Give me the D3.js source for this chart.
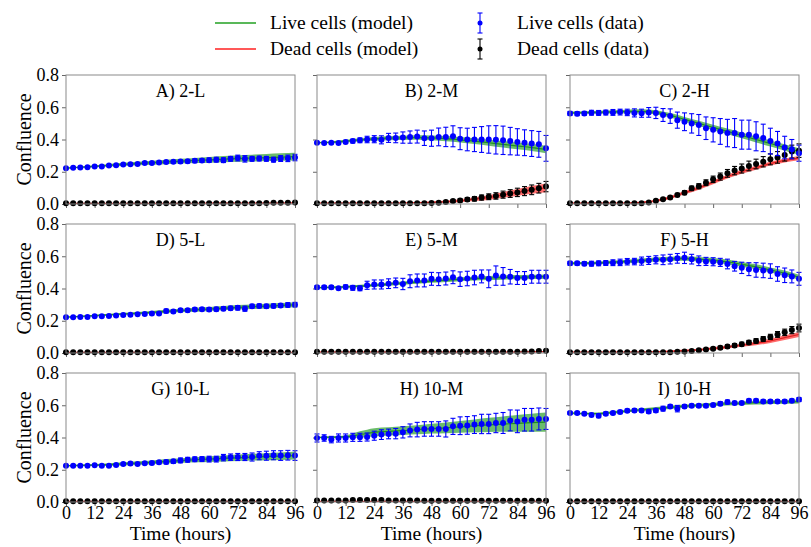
<!DOCTYPE html>
<html><head><meta charset="utf-8">
<script src="https://cdn.jsdelivr.net/npm/d3@7"></script>
<style>
body{margin:0;background:#fff}
svg{display:block}
text{font-family:"Liberation Serif","Times New Roman",serif;fill:#000}
</style>
</head><body><svg id="c" width="811" height="547"></svg>
<script>
// ---------------- data ----------------
const times = [0,3,6,9,12,15,18,21,24,27,30,33,36,39,42,45,48,51,54,57,60,63,66,69,72,75,78,81,84,87,90,93,96];
const modelTimes = [0,6,12,18,24,30,36,42,48,54,60,66,72,78,84,90,96];
const xTicks = [0,12,24,36,48,60,72,84,96];
const yTicks = [0,0.2,0.4,0.6,0.8];
const panelTitles = ["A) 2-L","B) 2-M","C) 2-H","D) 5-L","E) 5-M","F) 5-H","G) 10-L","H) 10-M","I) 10-H"];
const legendLabels = ["Live cells (model)","Dead cells (model)","Live cells (data)","Dead cells (data)"];

const liveMean = [
 [0.222,0.225,0.226,0.228,0.232,0.232,0.238,0.240,0.245,0.246,0.248,0.255,0.255,0.258,0.260,0.262,0.263,0.265,0.268,0.270,0.272,0.275,0.272,0.280,0.285,0.280,0.280,0.282,0.280,0.275,0.282,0.283,0.288],
 [0.380,0.378,0.380,0.378,0.385,0.390,0.395,0.400,0.402,0.398,0.410,0.410,0.412,0.415,0.418,0.408,0.408,0.416,0.416,0.420,0.405,0.400,0.400,0.400,0.400,0.398,0.395,0.390,0.385,0.380,0.375,0.370,0.345],
 [0.562,0.560,0.562,0.566,0.565,0.567,0.568,0.570,0.568,0.565,0.563,0.568,0.565,0.552,0.545,0.520,0.510,0.500,0.490,0.470,0.460,0.450,0.440,0.440,0.430,0.430,0.420,0.410,0.390,0.375,0.350,0.340,0.315],
 [0.222,0.222,0.223,0.224,0.228,0.228,0.230,0.232,0.235,0.237,0.240,0.242,0.245,0.245,0.260,0.258,0.265,0.265,0.270,0.272,0.270,0.272,0.275,0.278,0.280,0.275,0.290,0.292,0.290,0.292,0.295,0.298,0.300],
 [0.407,0.407,0.407,0.401,0.410,0.404,0.401,0.420,0.425,0.425,0.430,0.435,0.428,0.445,0.450,0.450,0.460,0.458,0.462,0.470,0.458,0.462,0.468,0.475,0.460,0.480,0.475,0.473,0.465,0.465,0.473,0.473,0.473],
 [0.556,0.556,0.554,0.554,0.556,0.558,0.560,0.562,0.566,0.567,0.570,0.574,0.578,0.578,0.582,0.587,0.590,0.582,0.572,0.568,0.566,0.562,0.552,0.538,0.528,0.520,0.515,0.512,0.508,0.490,0.482,0.475,0.460],
 [0.225,0.225,0.225,0.225,0.228,0.225,0.225,0.230,0.236,0.238,0.236,0.240,0.242,0.246,0.248,0.252,0.258,0.262,0.265,0.266,0.266,0.266,0.275,0.278,0.279,0.279,0.279,0.287,0.287,0.290,0.288,0.290,0.288],
 [0.397,0.397,0.387,0.397,0.397,0.401,0.401,0.403,0.411,0.418,0.422,0.424,0.432,0.444,0.449,0.453,0.453,0.453,0.453,0.469,0.473,0.475,0.480,0.484,0.484,0.490,0.490,0.506,0.500,0.510,0.510,0.515,0.515],
 [0.552,0.552,0.548,0.540,0.535,0.548,0.552,0.558,0.566,0.568,0.568,0.562,0.568,0.579,0.593,0.579,0.593,0.597,0.597,0.597,0.601,0.610,0.620,0.614,0.614,0.628,0.628,0.624,0.624,0.624,0.624,0.628,0.635]
];
const liveErr = [
 [0.004,0.004,0.004,0.004,0.004,0.004,0.005,0.005,0.005,0.005,0.006,0.006,0.006,0.007,0.008,0.008,0.010,0.010,0.012,0.012,0.014,0.015,0.015,0.015,0.018,0.020,0.015,0.015,0.015,0.015,0.018,0.020,0.020],
 [0.005,0.005,0.006,0.006,0.010,0.012,0.015,0.020,0.022,0.025,0.028,0.030,0.035,0.038,0.040,0.045,0.050,0.055,0.060,0.065,0.068,0.070,0.075,0.080,0.085,0.088,0.088,0.085,0.082,0.080,0.080,0.080,0.080],
 [0.012,0.012,0.012,0.015,0.015,0.015,0.018,0.018,0.020,0.025,0.025,0.030,0.035,0.040,0.045,0.050,0.055,0.060,0.065,0.070,0.075,0.080,0.085,0.090,0.090,0.090,0.090,0.085,0.080,0.075,0.070,0.060,0.050],
 [0.004,0.004,0.004,0.005,0.005,0.005,0.005,0.006,0.006,0.006,0.007,0.007,0.008,0.008,0.012,0.010,0.010,0.010,0.010,0.010,0.012,0.012,0.012,0.012,0.014,0.016,0.012,0.012,0.012,0.012,0.012,0.014,0.014],
 [0.010,0.010,0.010,0.008,0.012,0.015,0.015,0.025,0.028,0.028,0.030,0.030,0.035,0.040,0.040,0.040,0.040,0.040,0.040,0.040,0.045,0.045,0.045,0.040,0.055,0.060,0.055,0.045,0.040,0.040,0.040,0.040,0.040],
 [0.012,0.012,0.012,0.015,0.015,0.015,0.018,0.020,0.020,0.020,0.025,0.025,0.025,0.030,0.030,0.030,0.035,0.030,0.030,0.025,0.025,0.025,0.030,0.030,0.035,0.040,0.045,0.045,0.045,0.045,0.045,0.040,0.040],
 [0.004,0.004,0.004,0.004,0.005,0.005,0.005,0.006,0.008,0.008,0.008,0.008,0.010,0.010,0.012,0.012,0.015,0.015,0.015,0.015,0.018,0.018,0.020,0.020,0.022,0.022,0.025,0.025,0.028,0.028,0.030,0.030,0.030],
 [0.025,0.020,0.020,0.025,0.025,0.025,0.025,0.025,0.028,0.030,0.030,0.032,0.035,0.040,0.045,0.045,0.045,0.045,0.050,0.050,0.055,0.055,0.055,0.060,0.060,0.060,0.065,0.065,0.070,0.070,0.070,0.068,0.065],
 [0.008,0.008,0.008,0.010,0.012,0.010,0.010,0.010,0.010,0.010,0.010,0.012,0.012,0.015,0.010,0.020,0.010,0.010,0.010,0.010,0.010,0.012,0.012,0.010,0.010,0.010,0.010,0.010,0.010,0.010,0.010,0.010,0.012]
];
const deadMean = [
 [0.005,0.005,0.005,0.005,0.005,0.005,0.005,0.005,0.005,0.005,0.005,0.005,0.005,0.005,0.005,0.005,0.005,0.005,0.005,0.005,0.005,0.005,0.005,0.005,0.005,0.005,0.005,0.005,0.006,0.007,0.008,0.008,0.009],
 [0.005,0.005,0.005,0.005,0.005,0.005,0.005,0.005,0.005,0.005,0.005,0.005,0.005,0.005,0.005,0.005,0.006,0.008,0.012,0.018,0.022,0.028,0.032,0.040,0.045,0.050,0.058,0.065,0.072,0.080,0.088,0.098,0.108],
 [0.005,0.005,0.005,0.005,0.005,0.005,0.005,0.005,0.005,0.005,0.005,0.010,0.020,0.030,0.040,0.056,0.070,0.097,0.110,0.132,0.153,0.170,0.190,0.207,0.220,0.236,0.248,0.262,0.277,0.289,0.304,0.325,0.331],
 [0.005,0.005,0.005,0.005,0.005,0.005,0.005,0.005,0.005,0.005,0.005,0.005,0.005,0.005,0.005,0.005,0.005,0.005,0.005,0.005,0.005,0.005,0.005,0.005,0.005,0.005,0.005,0.005,0.005,0.005,0.005,0.005,0.005],
 [0.007,0.007,0.007,0.007,0.007,0.007,0.007,0.007,0.007,0.007,0.007,0.007,0.007,0.007,0.007,0.007,0.007,0.007,0.007,0.007,0.007,0.007,0.007,0.007,0.007,0.007,0.007,0.008,0.008,0.009,0.010,0.012,0.014],
 [0.005,0.005,0.005,0.005,0.005,0.005,0.005,0.005,0.005,0.005,0.005,0.005,0.005,0.005,0.005,0.008,0.010,0.013,0.017,0.022,0.027,0.033,0.040,0.047,0.055,0.065,0.075,0.087,0.100,0.115,0.128,0.142,0.155],
 [0.005,0.005,0.005,0.005,0.005,0.005,0.005,0.005,0.005,0.005,0.005,0.005,0.005,0.005,0.005,0.005,0.005,0.005,0.005,0.005,0.005,0.005,0.005,0.005,0.005,0.005,0.005,0.005,0.005,0.005,0.005,0.005,0.005],
 [0.009,0.009,0.009,0.009,0.009,0.012,0.012,0.012,0.012,0.012,0.010,0.009,0.009,0.009,0.009,0.008,0.008,0.008,0.008,0.008,0.008,0.008,0.008,0.008,0.008,0.008,0.008,0.008,0.008,0.008,0.008,0.008,0.008],
 [0.005,0.005,0.005,0.005,0.005,0.005,0.005,0.005,0.005,0.005,0.005,0.005,0.005,0.005,0.005,0.005,0.005,0.005,0.005,0.005,0.005,0.005,0.005,0.005,0.005,0.005,0.005,0.005,0.005,0.005,0.005,0.005,0.005]
];
const deadErr = [
 [0.003,0.003,0.003,0.003,0.003,0.003,0.003,0.003,0.003,0.003,0.003,0.003,0.003,0.003,0.003,0.003,0.003,0.003,0.003,0.003,0.003,0.003,0.003,0.003,0.003,0.003,0.003,0.003,0.003,0.003,0.003,0.003,0.003],
 [0.003,0.003,0.003,0.003,0.003,0.003,0.003,0.003,0.003,0.003,0.003,0.003,0.003,0.003,0.003,0.003,0.004,0.005,0.006,0.008,0.010,0.012,0.014,0.016,0.018,0.020,0.022,0.024,0.026,0.028,0.030,0.030,0.032],
 [0.003,0.003,0.003,0.003,0.003,0.003,0.003,0.003,0.003,0.003,0.003,0.004,0.005,0.006,0.008,0.010,0.012,0.014,0.016,0.018,0.020,0.022,0.024,0.026,0.028,0.030,0.030,0.032,0.034,0.036,0.038,0.040,0.042],
 [0.003,0.003,0.003,0.003,0.003,0.003,0.003,0.003,0.003,0.003,0.003,0.003,0.003,0.003,0.003,0.003,0.003,0.003,0.003,0.003,0.003,0.003,0.003,0.003,0.003,0.003,0.003,0.003,0.003,0.003,0.003,0.003,0.003],
 [0.003,0.003,0.003,0.003,0.003,0.003,0.003,0.003,0.003,0.003,0.003,0.003,0.003,0.003,0.003,0.003,0.003,0.003,0.003,0.003,0.003,0.003,0.003,0.003,0.003,0.003,0.003,0.003,0.003,0.003,0.003,0.004,0.004],
 [0.003,0.003,0.003,0.003,0.003,0.003,0.003,0.003,0.003,0.003,0.003,0.003,0.003,0.003,0.003,0.004,0.004,0.005,0.006,0.007,0.008,0.009,0.010,0.011,0.012,0.013,0.014,0.015,0.016,0.018,0.020,0.022,0.024],
 [0.003,0.003,0.003,0.003,0.003,0.003,0.003,0.003,0.003,0.003,0.003,0.003,0.003,0.003,0.003,0.003,0.003,0.003,0.003,0.003,0.003,0.003,0.003,0.003,0.003,0.003,0.003,0.003,0.003,0.003,0.003,0.003,0.003],
 [0.003,0.003,0.003,0.003,0.003,0.004,0.004,0.004,0.004,0.004,0.003,0.003,0.003,0.003,0.003,0.003,0.003,0.003,0.003,0.003,0.003,0.003,0.003,0.003,0.003,0.003,0.003,0.003,0.003,0.003,0.003,0.003,0.003],
 [0.003,0.003,0.003,0.003,0.003,0.003,0.003,0.003,0.003,0.003,0.003,0.003,0.003,0.003,0.003,0.003,0.003,0.003,0.003,0.003,0.003,0.003,0.003,0.003,0.003,0.003,0.003,0.003,0.003,0.003,0.003,0.003,0.003]
];
const modelLive = [
 [0.222,0.228,0.234,0.240,0.246,0.251,0.256,0.261,0.266,0.270,0.274,0.278,0.282,0.285,0.288,0.291,0.294],
 [0.380,0.383,0.390,0.398,0.404,0.408,0.410,0.412,0.410,0.405,0.398,0.390,0.380,0.370,0.360,0.350,0.338],
 [0.565,0.567,0.569,0.571,0.574,0.575,0.568,0.550,0.525,0.500,0.475,0.450,0.425,0.400,0.375,0.350,0.325],
 [0.222,0.227,0.232,0.237,0.242,0.247,0.252,0.258,0.263,0.268,0.273,0.278,0.283,0.287,0.291,0.295,0.299],
 [0.405,0.407,0.410,0.415,0.420,0.427,0.434,0.440,0.446,0.452,0.457,0.461,0.465,0.468,0.470,0.472,0.474],
 [0.556,0.557,0.559,0.563,0.568,0.574,0.580,0.584,0.585,0.582,0.575,0.565,0.550,0.535,0.515,0.495,0.470],
 [0.225,0.227,0.229,0.232,0.236,0.241,0.246,0.252,0.257,0.262,0.266,0.270,0.274,0.278,0.281,0.284,0.287],
 [0.400,0.402,0.405,0.418,0.432,0.438,0.443,0.448,0.455,0.460,0.466,0.472,0.478,0.483,0.488,0.492,0.495],
 [0.552,0.548,0.548,0.556,0.564,0.572,0.580,0.587,0.594,0.600,0.605,0.609,0.613,0.616,0.619,0.621,0.623]
];
const modelLiveHW = [
 [0.003,0.005,0.006,0.008,0.010,0.011,0.012,0.014,0.015,0.016,0.018,0.019,0.020,0.021,0.022,0.023,0.024],
 [0.004,0.006,0.008,0.010,0.011,0.012,0.013,0.014,0.015,0.016,0.017,0.018,0.019,0.020,0.021,0.022,0.023],
 [0.008,0.008,0.009,0.010,0.011,0.012,0.013,0.014,0.015,0.016,0.017,0.018,0.018,0.019,0.019,0.020,0.020],
 [0.003,0.004,0.005,0.006,0.007,0.008,0.009,0.010,0.011,0.012,0.012,0.013,0.014,0.014,0.015,0.015,0.016],
 [0.005,0.006,0.007,0.008,0.009,0.010,0.010,0.011,0.011,0.012,0.012,0.012,0.012,0.013,0.013,0.013,0.013],
 [0.008,0.008,0.009,0.010,0.011,0.012,0.012,0.013,0.013,0.014,0.014,0.015,0.015,0.015,0.016,0.016,0.016],
 [0.003,0.005,0.006,0.008,0.010,0.011,0.012,0.014,0.015,0.016,0.018,0.019,0.020,0.021,0.022,0.023,0.024],
 [0.005,0.006,0.008,0.020,0.026,0.026,0.027,0.028,0.030,0.033,0.036,0.040,0.044,0.048,0.052,0.056,0.060],
 [0.006,0.006,0.007,0.008,0.008,0.009,0.009,0.010,0.010,0.010,0.011,0.011,0.011,0.012,0.012,0.012,0.012]
];
const modelDead = [
 [0.004,0.004,0.004,0.004,0.004,0.004,0.004,0.004,0.004,0.004,0.005,0.005,0.005,0.005,0.006,0.006,0.007],
 [0.005,0.005,0.005,0.005,0.005,0.005,0.006,0.008,0.010,0.014,0.020,0.030,0.040,0.056,0.072,0.088,0.100],
 [0.005,0.005,0.005,0.005,0.006,0.010,0.020,0.040,0.070,0.100,0.135,0.170,0.200,0.225,0.250,0.270,0.285],
 [0.004,0.004,0.004,0.004,0.004,0.004,0.004,0.004,0.004,0.004,0.004,0.004,0.004,0.004,0.004,0.004,0.004],
 [0.005,0.005,0.005,0.005,0.005,0.005,0.005,0.005,0.005,0.005,0.005,0.005,0.005,0.005,0.006,0.007,0.008],
 [0.005,0.005,0.005,0.005,0.005,0.005,0.007,0.010,0.015,0.020,0.028,0.037,0.048,0.060,0.075,0.095,0.115],
 [0.004,0.004,0.004,0.004,0.004,0.004,0.004,0.004,0.004,0.004,0.004,0.004,0.004,0.004,0.004,0.004,0.004],
 [0.004,0.004,0.004,0.004,0.004,0.004,0.004,0.004,0.004,0.004,0.004,0.004,0.004,0.004,0.004,0.004,0.004],
 [0.004,0.004,0.004,0.004,0.004,0.004,0.004,0.004,0.004,0.004,0.004,0.004,0.004,0.004,0.004,0.004,0.004]
];
const modelDeadHW = [
 [0.002,0.002,0.002,0.002,0.002,0.002,0.002,0.002,0.002,0.002,0.002,0.002,0.002,0.002,0.002,0.002,0.002],
 [0.002,0.002,0.002,0.002,0.002,0.002,0.003,0.004,0.005,0.007,0.009,0.012,0.015,0.018,0.021,0.024,0.027],
 [0.003,0.003,0.003,0.003,0.004,0.005,0.007,0.009,0.010,0.011,0.012,0.012,0.012,0.012,0.012,0.012,0.013],
 [0.002,0.002,0.002,0.002,0.002,0.002,0.002,0.002,0.002,0.002,0.002,0.002,0.002,0.002,0.002,0.002,0.002],
 [0.002,0.002,0.002,0.002,0.002,0.002,0.002,0.002,0.002,0.002,0.002,0.002,0.002,0.002,0.002,0.002,0.002],
 [0.002,0.002,0.002,0.002,0.002,0.003,0.004,0.005,0.006,0.007,0.008,0.009,0.010,0.012,0.013,0.015,0.016],
 [0.002,0.002,0.002,0.002,0.002,0.002,0.002,0.002,0.002,0.002,0.002,0.002,0.002,0.002,0.002,0.002,0.002],
 [0.002,0.002,0.002,0.002,0.002,0.002,0.002,0.002,0.002,0.002,0.002,0.002,0.002,0.002,0.002,0.002,0.002],
 [0.002,0.002,0.002,0.002,0.002,0.002,0.002,0.002,0.002,0.002,0.002,0.002,0.002,0.002,0.002,0.002,0.002]
];

// ---------------- drawing ----------------
const svg = d3.select("#c");
svg.append("rect").attr("width",811).attr("height",547).attr("fill","#fff");

const colX = [66, 317, 570], rowY = [75, 224, 373];
const pw = 229, ph = 129;
const C = {
  liveBand:"#3aa63a", liveLine:"#1f8f1f",
  deadBand:"#ff3b3b", deadLine:"#e02020",
  live:"#0000ff", dead:"#000000", frame:"#8a8a8a"
};

panelTitles.forEach((title, i) => {
  const r = Math.floor(i/3), c = i%3;
  const g = svg.append("g").attr("transform", `translate(${colX[c]},${rowY[r]})`);
  const x = d3.scaleLinear().domain([0,96]).range([0,pw]);
  const y = d3.scaleLinear().domain([0,0.8]).range([ph,0]);

  // axes
  const ya = g.append("g").call(d3.axisLeft(y).tickValues(yTicks).tickSize(4).tickPadding(3)
      .tickFormat(c===0 ? d3.format(".1f") : () => ""));
  const xa = g.append("g").attr("transform",`translate(0,${ph})`)
      .call(d3.axisBottom(x).tickValues(xTicks).tickSize(4).tickPadding(0)
      .tickFormat(r===2 ? d3.format("d") : () => ""));
  [ya, xa].forEach(a => {
    a.select(".domain").remove();
    a.selectAll(".tick line").attr("stroke","#666");
    a.selectAll(".tick text").style("font-family","'Liberation Serif',serif").style("font-size","18px").attr("fill","#000");
  });

  // model bands
  const mLive = modelTimes.map((t,k)=>({t, m:modelLive[i][k], h:modelLiveHW[i][k]}));
  const mDead = modelTimes.map((t,k)=>({t, m:modelDead[i][k], h:modelDeadHW[i][k]}));
  const area = d3.area().x(d=>x(d.t)).y0(d=>y(d.m-d.h)).y1(d=>y(d.m+d.h)).curve(d3.curveMonotoneX);
  const line = d3.line().x(d=>x(d.t)).y(d=>y(d.m)).curve(d3.curveMonotoneX);
  g.append("path").datum(mLive).attr("d",area).attr("fill",C.liveBand).attr("fill-opacity",0.75);
  g.append("path").datum(mLive).attr("d",line).attr("fill","none").attr("stroke",C.liveLine).attr("stroke-width",1.2);
  g.append("path").datum(mDead).attr("d",area).attr("fill",C.deadBand).attr("fill-opacity",0.75);
  g.append("path").datum(mDead).attr("d",line).attr("fill","none").attr("stroke",C.deadLine).attr("stroke-width",1.2);

  // data with error bars
  function drawErr(mean, err, color){
    const pts = times.map((t,k)=>({t, m:mean[k], e:err[k]}));
    const eg = g.append("g").attr("stroke",color).attr("stroke-width",1.1);
    pts.forEach(d=>{
      const px = x(d.t), y1 = y(d.m+d.e), y2 = y(d.m-d.e);
      eg.append("line").attr("x1",px).attr("x2",px).attr("y1",y1).attr("y2",y2);
      eg.append("line").attr("x1",px-2.5).attr("x2",px+2.5).attr("y1",y1).attr("y2",y1);
      eg.append("line").attr("x1",px-2.5).attr("x2",px+2.5).attr("y1",y2).attr("y2",y2);
    });
    g.append("g").selectAll("circle").data(pts).join("circle")
      .attr("cx",d=>x(d.t)).attr("cy",d=>y(d.m)).attr("r",3).attr("fill",color);
  }
  drawErr(deadMean[i], deadErr[i], C.dead);
  drawErr(liveMean[i], liveErr[i], C.live);

  // frame
  g.append("rect").attr("width",pw).attr("height",ph).attr("fill","none").attr("stroke",C.frame).attr("stroke-width",1);

  // title
  g.append("text").attr("x",pw/2).attr("y",22).attr("text-anchor","middle")
    .style("font-size","18px").text(title);

  if (c===0) {
    g.append("text").attr("transform",`translate(${31-colX[0]},${ph/2}) rotate(-90)`)
      .attr("text-anchor","middle").style("font-size","20px").text("Confluence");
  }
  if (r===2) {
    g.append("text").attr("x",pw/2).attr("y",ph+38).attr("text-anchor","middle")
      .style("font-size","19.5px").text("Time (hours)");
  }
});

// legend
const lg = svg.append("g");
const lf = "19.5px";
lg.append("line").attr("x1",215).attr("x2",256).attr("y1",23).attr("y2",23).attr("stroke","#22a022").attr("stroke-width",1.5);
lg.append("line").attr("x1",215).attr("x2",256).attr("y1",49).attr("y2",49).attr("stroke","#ff2020").attr("stroke-width",1.5);
lg.append("text").attr("x",270).attr("y",29).style("font-size",lf).text(legendLabels[0]);
lg.append("text").attr("x",270).attr("y",55).style("font-size",lf).text(legendLabels[1]);
[[23,C.live],[49,C.dead]].forEach(([cy,col])=>{
  lg.append("line").attr("x1",480).attr("x2",480).attr("y1",cy-10).attr("y2",cy+10).attr("stroke",col).attr("stroke-width",1.1);
  lg.append("line").attr("x1",477.5).attr("x2",482.5).attr("y1",cy-10).attr("y2",cy-10).attr("stroke",col).attr("stroke-width",1.1);
  lg.append("line").attr("x1",477.5).attr("x2",482.5).attr("y1",cy+10).attr("y2",cy+10).attr("stroke",col).attr("stroke-width",1.1);
  lg.append("circle").attr("cx",480).attr("cy",cy).attr("r",2.5).attr("fill",col);
});
lg.append("text").attr("x",517).attr("y",29).style("font-size",lf).text(legendLabels[2]);
lg.append("text").attr("x",517).attr("y",55).style("font-size",lf).text(legendLabels[3]);
</script>
</body></html>
